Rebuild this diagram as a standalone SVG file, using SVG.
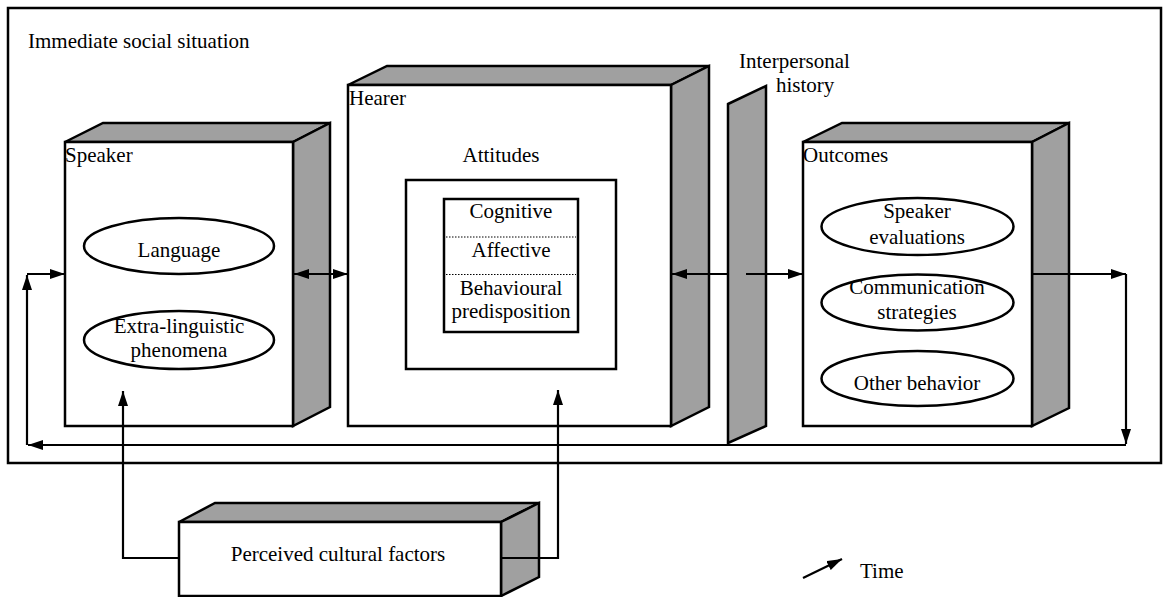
<svg xmlns="http://www.w3.org/2000/svg" width="1164" height="597" viewBox="0 0 1164 597" font-family="'Liberation Serif', 'Times New Roman', Times, serif" font-size="21">
  <style>
    text { font-family: 'Liberation Serif', 'Times New Roman', Times, serif; font-size: 21px; fill: #000; }
    .mid { text-anchor: middle; }
    .face { fill: #fff; stroke: #000; stroke-width: 2.5; }
    .shade { fill: #a0a0a0; stroke: #000; stroke-width: 2.5; stroke-linejoin: miter; }
    .oval { fill: #fff; stroke: #000; stroke-width: 2.5; }
    .frame { fill: none; stroke: #000; stroke-width: 2.5; }
    .line { fill: none; stroke: #000; stroke-width: 2.2; }
    .dot { stroke: #000; stroke-width: 1; stroke-dasharray: 1.5 1.5; }
  </style>
  <defs>
    <marker id="ah" viewBox="0 0 15 10" refX="15" refY="5" markerWidth="15" markerHeight="10" orient="auto-start-reverse" markerUnits="userSpaceOnUse">
      <path d="M0,0 L15,5 L0,10 z" fill="#000"/>
    </marker>
  </defs>

  <rect width="1164" height="597" fill="#fff"/>

  <!-- Surrounding situation frame -->
  <g id="situation">
    <rect class="frame" x="8" y="8" width="1153" height="455"/>
    <text x="28" y="48">Immediate social situation</text>
  </g>

  <!-- Speaker block -->
  <g id="speaker">
    <polygon class="shade" points="65,142 103,123 330,123 293,142"/>
    <polygon class="shade" points="293,142 330,123 330,407 293,426"/>
    <rect class="face" x="65" y="142" width="228" height="284"/>
    <text x="65" y="162">Speaker</text>
    <ellipse class="oval" cx="179" cy="246" rx="95" ry="28"/>
    <text class="mid" x="179" y="257">Language</text>
    <ellipse class="oval" cx="179" cy="340" rx="95" ry="29"/>
    <text class="mid" x="179" y="333">Extra-linguistic</text>
    <text class="mid" x="179" y="357">phenomena</text>
  </g>

  <!-- Hearer block -->
  <g id="hearer">
    <polygon class="shade" points="348,85 387,66 709,66 671,85"/>
    <polygon class="shade" points="671,85 709,66 709,407 671,426"/>
    <rect class="face" x="348" y="85" width="323" height="341"/>
    <text x="349" y="105">Hearer</text>
    <text class="mid" x="501" y="162">Attitudes</text>
    <rect class="face" x="406" y="180" width="210" height="189"/>
    <rect class="face" x="444" y="199" width="134" height="133"/>
    <line class="dot" x1="446" y1="237" x2="576" y2="237"/>
    <line class="dot" x1="446" y1="274.5" x2="576" y2="274.5"/>
    <text class="mid" x="511" y="218">Cognitive</text>
    <text class="mid" x="511" y="257">Affective</text>
    <text class="mid" x="511" y="295">Behavioural</text>
    <text class="mid" x="511" y="318">predisposition</text>
  </g>

  <!-- Interpersonal history panel -->
  <g id="history">
    <polygon class="shade" points="728,104 766,86 766,426 728,443"/>
    <text x="739" y="68">Interpersonal</text>
    <text x="776" y="92">history</text>
  </g>

  <!-- Outcomes block -->
  <g id="outcomes">
    <polygon class="shade" points="803,142 842,123 1069,123 1032,142"/>
    <polygon class="shade" points="1032,142 1069,123 1069,408 1032,426"/>
    <rect class="face" x="803" y="142" width="229" height="284"/>
    <text x="803" y="162">Outcomes</text>
    <ellipse class="oval" cx="917.5" cy="226.5" rx="96" ry="28.5"/>
    <text class="mid" x="917" y="218">Speaker</text>
    <text class="mid" x="917" y="244">evaluations</text>
    <ellipse class="oval" cx="917.5" cy="302.5" rx="96" ry="28"/>
    <text class="mid" x="917" y="294">Communication</text>
    <text class="mid" x="917" y="319">strategies</text>
    <ellipse class="oval" cx="917.5" cy="378.5" rx="96" ry="27.5"/>
    <text class="mid" x="917" y="390">Other behavior</text>
  </g>

  <!-- Perceived cultural factors block -->
  <g id="culture">
    <polygon class="shade" points="179,522 215,503 539,503 501,522"/>
    <polygon class="shade" points="501,522 539,503 539,577 501,596"/>
    <rect class="face" x="179" y="522" width="322" height="74"/>
    <text class="mid" x="338" y="561">Perceived cultural factors</text>
  </g>

  <!-- Connectors -->
  <g id="connectors">
    <!-- speaker <-> hearer -->
    <line class="line" x1="294" y1="274" x2="348" y2="274" marker-start="url(#ah)" marker-end="url(#ah)"/>
    <!-- history -> hearer -->
    <line class="line" x1="728" y1="274" x2="672" y2="274" marker-end="url(#ah)"/>
    <!-- history -> outcomes -->
    <line class="line" x1="746" y1="274" x2="803" y2="274" marker-end="url(#ah)"/>
    <!-- outcomes out to the right, then down -->
    <line class="line" x1="1032" y1="274" x2="1126" y2="274" marker-end="url(#ah)"/>
    <line class="line" x1="1126" y1="274" x2="1126" y2="444" marker-end="url(#ah)"/>
    <!-- feedback along the bottom -->
    <line class="line" x1="1126" y1="445" x2="28" y2="445" marker-end="url(#ah)"/>
    <line class="line" x1="27" y1="445" x2="27" y2="275" marker-end="url(#ah)"/>
    <line class="line" x1="27" y1="274" x2="65" y2="274" marker-end="url(#ah)"/>
    <!-- culture -> speaker and hearer -->
    <polyline class="line" points="179,558 123,558 123,391" marker-end="url(#ah)"/>
    <polyline class="line" points="501,558 558,558 558,390" marker-end="url(#ah)"/>
  </g>

  <!-- Time legend -->
  <g id="time">
    <line class="line" x1="803" y1="578" x2="842" y2="559" marker-end="url(#ah)"/>
    <text x="860" y="578">Time</text>
  </g>
</svg>
